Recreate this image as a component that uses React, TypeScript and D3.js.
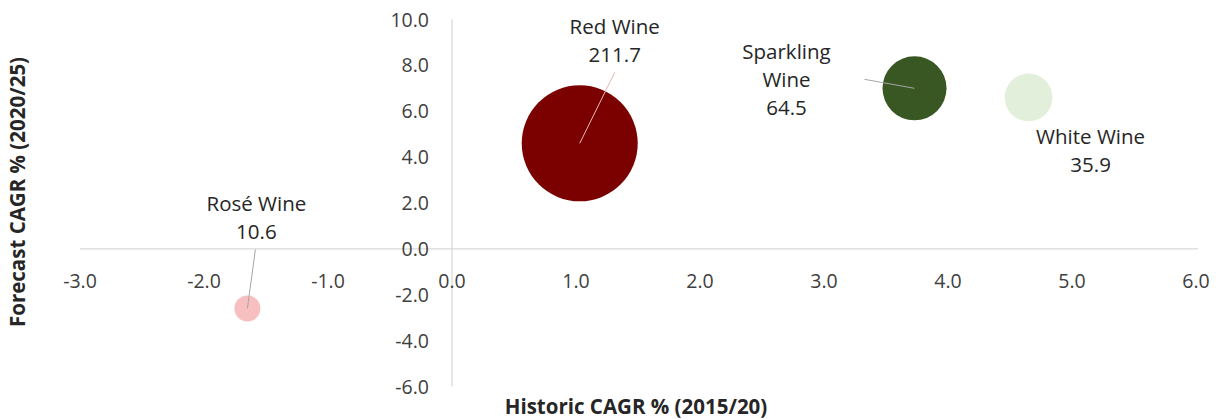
import React from "react";
import * as d3 from "d3";

const categories = ["Red Wine", "Sparkling Wine", "White Wine", "Rosé Wine"];
const labelLines = [["Red Wine"], ["Sparkling", "Wine"], ["White Wine"], ["Rosé Wine"]];
const historicCagr = [1.03, 3.73, 4.65, -1.65];
const forecastCagr = [4.6, 7.0, 6.6, -2.6];
const marketSize = [211.7, 64.5, 35.9, 10.6];
const colors = ["#7B0000", "#385723", "#E2EFDA", "#F8BFC1"];
const xTicks = [-3, -2, -1, 0, 1, 2, 3, 4, 5, 6];
const yTicks = [-6, -4, -2, 0, 2, 4, 6, 8, 10];

// label placement (pixel offsets from bubble centre)
const labelOffsets = [
  { dx: 35, dy: -109, lx: 35, ly: -71 },
  { dx: -128, dy: -29, lx: -50, ly: -9 },
  { dx: 62, dy: 47, lx: null, ly: null },
  { dx: 9, dy: -98, lx: 8, ly: -59 },
];

const FONT = "'Open Sans', sans-serif";
const fmt = (v: number) => d3.format(".1f")(v).replace("\u2212", "-");

export default function App() {
  const W = 1220, H = 419;
  const x = d3.scaleLinear().domain([-3, 6]).range([80, 1196]);
  const y = d3.scaleLinear().domain([-6, 10]).range([386.5, 19.5]);
  const r = d3.scaleSqrt().domain([0, 211.7]).range([0, 58]);
  const axisColor = "#D9D9D9";
  const textColor = "#404040";
  const lineH = 28;

  return (
    <svg width={W} height={H} style={{ position: "absolute", left: 0, top: 0, background: "#fff" }} fontFamily={FONT}>
      {/* axes */}
      <line x1={x(-3)} x2={x(6) + 2} y1={y(0)} y2={y(0)} stroke={axisColor} strokeWidth={1.3} />
      <line x1={x(0)} x2={x(0)} y1={y(10)} y2={y(-6)} stroke={axisColor} strokeWidth={1.3} />
      {xTicks.map((t) => (
        <text key={"x" + t} x={x(t)} y={y(0) + 39} textAnchor="middle" fontSize={19.5} fill={textColor}>
          {fmt(t)}
        </text>
      ))}
      {yTicks.map((t) => (
        <text key={"y" + t} x={429} y={y(t) + 7} textAnchor="end" fontSize={19.5} fill={textColor}>
          {fmt(t)}
        </text>
      ))}
      {/* axis titles */}
      <text x={636} y={414} textAnchor="middle" fontSize={20.5} fontWeight="bold" fill="#262626">
        Historic CAGR % (2015/20)
      </text>
      <text transform={`translate(25,192) rotate(-90)`} textAnchor="middle" fontSize={20.5} fontWeight="bold" fill="#262626">
        Forecast CAGR % (2020/25)
      </text>
      {/* bubbles */}
      {categories.map((c, i) => (
        <circle key={c} cx={x(historicCagr[i])} cy={y(forecastCagr[i])} r={r(marketSize[i])} fill={colors[i]} />
      ))}
      {/* leader lines */}
      {categories.map((c, i) => {
        const o = labelOffsets[i];
        if (o.lx === null) return null;
        const cx = x(historicCagr[i]), cy = y(forecastCagr[i]);
        return (
          <line key={"l" + c} x1={cx + o.lx} y1={cy + o.ly} x2={cx} y2={cy}
            stroke={i === 0 ? "#E6B8B8" : "#A6A6A6"} strokeWidth={1} />
        );
      })}
      {/* labels */}
      {categories.map((c, i) => {
        const o = labelOffsets[i];
        const cx = x(historicCagr[i]) + o.dx, cy = y(forecastCagr[i]) + o.dy;
        const lines = [...labelLines[i], fmt(marketSize[i])];
        return (
          <text key={"t" + c} textAnchor="middle" fontSize={20.5} fill="#262626">
            {lines.map((ln, k) => (
              <tspan key={k} x={cx} y={cy + k * lineH}>{ln}</tspan>
            ))}
          </text>
        );
      })}
    </svg>
  );
}
